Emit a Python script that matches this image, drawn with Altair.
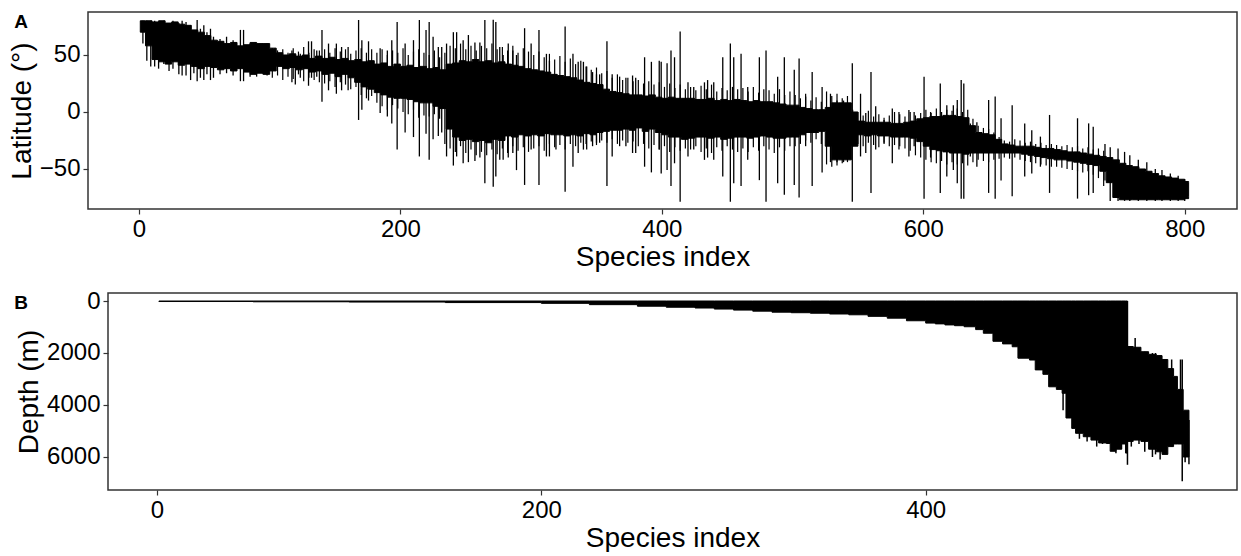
import altair as alt
import pandas as pd

FONT = "Liberation Sans"

# ---------------- Panel A : latitude range per species ----------------
# dense core of the band (solid black), read every 5 species
a_core_x = [1] + list(range(5, 801, 5)) + [803]
a_core_hi = [80, 80, 79, 80, 78, 79, 77, 76, 72, 70,
             67, 63, 62, 60, 61, 58, 59, 61, 60, 60,
             56, 52, 50, 51, 49, 50, 47, 49, 47, 48,
             46, 47, 45, 46, 44, 45, 42, 43, 40, 42,
             40, 41, 39, 40, 38, 39, 37, 42, 43, 45,
             44, 46, 44, 45, 43, 44, 42, 41, 40, 38,
             37, 36, 35, 33, 32, 31, 30, 28, 26, 25,
             24, 20, 18, 17, 16, 15, 15, 14, 15, 13,
             12, 13, 12, 12, 12, 11, 11, 12, 10, 11,
             10, 11, 10, 9, 10, 9, 9, 8, 7, 6,
             6, 4, 3, 2, 2, 4, 8, 8, 8, 0,
             -8, -9, -9, -9, -9, -10, -10, -9, -8, -6,
             -5, -4, -4, -3, -3, -4, -5, -12, -18, -19,
             -20, -24, -28, -29, -30, -30, -30, -31, -32, -32,
             -33, -34, -35, -35, -36, -37, -38, -39, -40, -42,
             -45, -47, -48, -50, -52, -54, -56, -57, -58, -59,
             -61, -62]
a_core_lo = [70, 58, 46, 44, 42, 44, 41, 42, 40, 38,
             40, 39, 37, 38, 36, 38, 35, 33, 34, 33,
             36, 40, 38, 39, 37, 38, 35, 36, 33, 34,
             31, 33, 30, 26, 22, 20, 17, 15, 13, 12,
             12, 11, 9, 8, 8, 5, 3, -15, -22, -25,
             -24, -26, -25, -27, -24, -25, -21, -22, -20, -21,
             -20, -21, -19, -20, -20, -21, -20, -21, -19, -20,
             -18, -17, -16, -16, -15, -16, -14, -17, -15, -18,
             -20, -22, -22, -24, -23, -22, -22, -23, -22, -24,
             -23, -22, -22, -23, -22, -21, -22, -23, -23, -22,
             -22, -20, -18, -18, -17, -30, -42, -42, -42, -30,
             -20, -21, -20, -21, -21, -22, -22, -22, -23, -26,
             -30, -33, -34, -35, -36, -36, -37, -36, -36, -36,
             -36, -36, -36, -36, -36, -37, -38, -39, -40, -41,
             -42, -42, -43, -44, -45, -46, -47, -52, -62, -75,
             -77, -77, -77, -77, -77, -77, -77, -77, -77, -77,
             -76, -74]

# species whose range sticks a little out of the core (every 4th species, 102..738)
a_fringe_x = list(range(102, 739, 4))
a_fringe_top = [56, 54, 55, 52, 56, 53, 57, 52, 55, 54,
                55, 52, 56, 53, 55, 51, 54, 56, 52, 55,
                52, 55, 50, 54, 52, 56, 50, 53, 55, 52,
                50, 54, 48, 52, 58, 56, 60, 55, 58, 54,
                58, 56, 60, 55, 57, 54, 58, 52, 56, 53,
                50, 53, 48, 51, 46, 49, 44, 47, 42, 45,
                40, 37, 39, 34, 36, 30, 33, 28, 30, 27,
                28, 25, 27, 24, 26, 22, 25, 21, 24, 20,
                22, 19, 23, 20, 24, 18, 21, 19, 22, 20,
                21, 18, 22, 17, 20, 19, 16, 20, 15, 18,
                15, 12, 16, 10, 13, 9, 18, 14, 16, 12,
                14, 2, 0, -3, 1, -4, -2, -5, -3, 0,
                -2, -4, 0, -3, -1, 2, -1, 3, 0, 2,
                1, 3, 0, 2, -6, -12, -14, -15, -18, -22,
                -25, -26, -24, -25, -27, -26, -28, -27, -29, -28,
                -29, -30, -29, -31, -30, -32, -31, -33, -32, -34]
a_fringe_bot = [30, 32, 28, 31, 29, 33, 27, 30, 28, 26,
                25, 27, 22, 26, 24, 20, 22, 15, 12, 14,
                8, 5, 2, 6, 3, 0, -2, 2, -5, -3,
                -4, -2, -6, -28, -32, -35, -30, -36, -33, -38,
                -35, -38, -33, -37, -32, -36, -30, -34, -31, -35,
                -32, -30, -34, -28, -31, -29, -33, -28, -30, -27,
                -28, -26, -29, -25, -27, -24, -28, -25, -27, -26,
                -30, -28, -32, -29, -33, -30, -35, -31, -34, -32,
                -33, -30, -35, -32, -36, -31, -34, -30, -33, -35,
                -32, -35, -31, -34, -30, -33, -36, -31, -34, -30,
                -30, -28, -25, -27, -24, -28, -46, -48, -47, -45,
                -44, -30, -28, -30, -27, -29, -31, -28, -30, -29,
                -30, -32, -34, -38, -40, -42, -44, -45, -43, -46,
                -44, -46, -45, -47, -44, -42, -43, -44, -42, -41,
                -40, -41, -40, -42, -43, -44, -45, -46, -47, -48,
                -48, -49, -50, -51, -52, -53, -52, -55, -58, -65]

# individual species reaching far outside the core (vertical strokes)
a_spike_x = [3, 6, 9, 12, 15, 19, 23, 26, 30.5, 33, 36, 39.5, 42, 44.5, 47, 49.6, 52, 54.7, 57, 62,
             67, 72, 77.6, 80, 85, 90, 95, 98, 104, 117, 119.6, 123.4, 129.7, 132, 136, 140, 145, 151, 155, 160,
             168, 170.5, 175.6, 184.5, 190, 193.4, 197.5, 203.6, 210, 214.5, 219.6, 222, 225, 229, 231.6, 235.3, 240.5, 243, 248, 252,
             257, 260.8, 264.6, 271, 273, 276, 278.6, 282.5, 286, 288.8, 295, 300, 306, 311.7, 314, 319, 326, 332, 336, 340,
             342.5, 347, 350, 352.4, 358, 362, 367.7, 372.5, 377.6, 380, 386.8, 392, 398, 399.5, 404, 407, 409.7, 414, 420, 424.4,
             432.6, 435, 439.7, 446.6, 452.4, 455, 460.6, 465.7, 474.6, 479.7, 488.6, 493.7, 501.3, 505, 510, 515, 522.6, 529, 534, 539,
             545.7, 552, 556, 560, 563.6, 570, 576.3, 581.4, 589, 593, 600.6, 605.6, 613, 618, 623, 626, 629, 631, 636, 641,
             650, 655, 659.5, 668, 677.6, 683, 689.6, 696.6, 718, 726.5, 730, 739, 743, 749, 754, 758, 764.5, 771, 777.5, 782.6,
             789, 795, 800]
a_spike_top = [80, 80, 80, 80, 79, 80, 78, 80, 78, 80, 79, 76, 72, 80.7, 73, 76, 70, 73, 66, 64,
               66, 63, 72, 72, 60, 60, 60, 60, 56, 54, 50, 51, 62, 62, 54, 72, 60, 60, 57, 57,
               80.7, 63, 62, 56, 54, 63, 79, 60, 63, 80.7, 72, 79, 66, 57, 57, 60, 70, 70, 63, 67.5,
               61, 61, 80.7, 81, 79, 57, 50, 60, 54, 50, 73.5, 60, 72, 51, 45, 31, 75, 51, 44, 44,
               40, 35, 33, 33, 62, 33, 31, 30, 32, 30, 48, 44, 45, 44, 42.7, 54, 48, 70.5, 26, 22,
               26, 28, 26, 48, 60, 48, 51, 22, 48, 54, 31, 48, 37, 47, 13.5, 35, 22, 16, 10, 10,
               42.7, 16, -1, 35, 5, -7, 3, 0, 1.8, 0, 31, 0, 25, 6, 6, 10.5, 28, 25, -10, -9,
               10.5, 13.5, -5.5, 6, -10, -16, -21.6, -2.6, -5.5, -10, -13, -28, -31, -32, -35, -38, -42, -44, -50, -51,
               -54, -56, -59]
a_spike_bot = [60, 45, 40, 40, 38, 42, 36, 38, 33, 32, 32, 28, 34, 27, 30, 28, 33, 28, 30, 33,
               34, 32, 27, 27, 31, 31, 33, 32, 36, 26, 24, 30, 23, 30, 31, 9, 19, 16, 19, 19,
               -7, 2, 10, -1, -4, -10, -33, -18, -22, -39, -19, -42, -24, -21, -18, -39, -47, -39, -45, -44,
               -43, -40, -62.6, -65.5, -56.7, -42, -42, -40, -36, -51, -64, -33, -64, -39, -39, -33, -70, -48, -36, -33,
               -33, -30, -27, -27, -65, -39, -30, -30, -36, -36, -48, -53, -33, -54, -51, -65, -45, -78.7, -39, -33,
               -42, -40, -42, -56.7, -78.7, -62.6, -65, -42, -59.8, -78.7, -62.6, -72.5, -64, -75, -30, -65, -53, -44, -44, -44,
               -78.7, -39, -36, -71, -33, -27, -45, -33, -39, -30, -76, -40, -71, -56.7, -51, -62.6, -76, -76, -39, -48,
               -71, -76, -60, -74, -56.7, -54, -48, -71, -76, -73, -71, -60, -78, -78, -78, -78, -78, -78, -78, -78,
               -78, -78, -78]

a_xticks = [0, 200, 400, 600, 800]
a_yticks = [-50, 0, 50]

# ---------------- Panel B : depth range per species ----------------
b_x = [1, 50, 100, 150, 200, 225, 250, 265, 280, 290,
       300, 310, 320, 330, 340, 350, 360, 370, 380, 390,
       400, 405, 410, 415, 420, 426, 430, 435, 440, 445,
       448, 454, 457, 461, 464, 468, 471, 473, 476, 478,
       482, 486, 490, 494, 496, 499, 502, 504,
       505, 508, 512, 516, 520, 523, 526, 529, 531, 534, 537]
b_min = [0, 0, 0, 0, 0, 0, 0, 0, 0, 0,
         0, 0, 0, 0, 0, 0, 0, 0, 0, 0,
         0, 0, 0, 0, 0, 0, 0, 0, 0, 0,
         0, 0, 0, 0, 0, 0, 0, 0, 0, 0,
         0, 0, 0, 0, 0, 0, 0, 0,
         1750, 1780, 1950, 2050, 2100, 2250, 2600, 2900, 3400, 4200, 4500]
b_max = [20, 30, 40, 60, 90, 140, 200, 240, 270, 310,
         350, 390, 430, 450, 470, 500, 530, 590, 660, 760,
         850, 880, 920, 950, 990, 1100, 1240, 1550, 1650, 1760,
         2200, 2270, 2650, 2820, 3300, 3400, 3550, 4500, 4900, 5090,
         5220, 5350, 5460, 5480, 5780, 5700, 5500, 5850,
         5400, 5350, 5400, 5700, 5800, 5900, 5600, 5500, 5500, 6000, 6000]

b_spike_x = [471.5, 480, 484, 489, 492, 499, 501.8, 505, 507, 509, 511, 514, 518, 519.6, 522, 525, 528, 532.6, 533.5, 535, 537]
b_spike_top = [0, 0, 0, 0, 0, 0, 0, 0, 1780, 1420, 1900, 1950, 2000, 2000, 2100, 2300, 2250, 2250, 2250, 4300, 4580]
b_spike_bot = [4200, 5300, 5400, 5600, 5500, 5860, 5700, 6300, 5600, 5270, 5500, 5800, 6000, 5900, 6100, 5800, 5600, 5500, 6936, 6200, 6280]

b_xticks = [0, 200, 400]
b_yticks = [0, 2000, 4000, 6000]

panel_labels = ["A", "B"]

AX = dict(grid=False, domain=False, ticks=True, tickSize=5, tickWidth=1.2, tickColor="#333333",
          labelFont=FONT, labelFontSize=24, labelColor="#000000", labelPadding=3,
          titleFont=FONT, titleFontSize=28, titleFontWeight="normal", titleColor="#000000")

BORDER = "#333333"


def panel(core, fringe, spikes, label, xdom, ydom, xticks, yticks, ytitle, width, reverse, sw,
          inset=0, ylabel_fmt=None):
    xs = alt.Scale(domain=xdom, nice=False, zero=False)
    ys = alt.Scale(domain=ydom, nice=False, zero=False, reverse=reverse)
    xax = alt.Axis(values=xticks, title="Species index", titlePadding=2,
                   titleX=inset + (width - inset) / 2, titleAlign="center", **AX)
    yax_kw = dict(values=yticks, title=ytitle, titlePadding=3, offset=-inset, **AX)
    if ylabel_fmt:
        yax_kw["format"] = ylabel_fmt
    area = alt.Chart(core).mark_area(color="black", stroke="black", strokeWidth=1,
                                     interpolate="step-after").encode(
        x=alt.X("species:Q", scale=xs, axis=xax),
        y=alt.Y("hi:Q", scale=ys, axis=alt.Axis(**yax_kw)),
        y2="lo:Q",
    )
    layers = [area]
    if fringe is not None:
        layers.append(alt.Chart(fringe).mark_rule(color="black", strokeWidth=1.2).encode(
            x=alt.X("species:Q"), y=alt.Y("top:Q"), y2="bot:Q"))
    layers.append(alt.Chart(spikes).mark_rule(color="black", strokeWidth=sw).encode(
        x=alt.X("species:Q"), y=alt.Y("top:Q"), y2="bot:Q"))
    frame = alt.Chart(pd.DataFrame({"f": [0]})).mark_rect(
        fill="transparent", stroke=BORDER, strokeWidth=1.5
    ).encode(x=alt.value(inset), x2=alt.value(width), y=alt.value(0), y2=alt.value(197))
    txt = alt.Chart(pd.DataFrame({"t": [label]})).mark_text(
        font=FONT, fontSize=19, fontWeight="bold", align="center", baseline="alphabetic", color="black"
    ).encode(text="t:N", x=alt.value(-67), y=alt.value(16))
    layers += [frame, txt]
    return alt.layer(*layers).properties(
        width=width, height=197, view=alt.ViewBackground(stroke="transparent", strokeWidth=0)
    )


core_a = pd.DataFrame({"species": a_core_x, "hi": a_core_hi, "lo": a_core_lo})
fr_a = pd.DataFrame({"species": a_fringe_x, "top": a_fringe_top, "bot": a_fringe_bot})
spk_a = pd.DataFrame({"species": a_spike_x, "top": a_spike_top, "bot": a_spike_bot})
core_b = pd.DataFrame({"species": b_x, "hi": b_min, "lo": b_max})
spk_b = pd.DataFrame({"species": b_spike_x, "top": b_spike_top, "bot": b_spike_bot})

pa = panel(core_a, fr_a, spk_a, panel_labels[0], [-39, 840], [-85.1, 87.7], a_xticks, a_yticks,
           "Latitude (°)", 1149, False, 1.3)
pb = panel(core_b, None, spk_b, panel_labels[1], [-35.9, 562], [-308, 7270], b_xticks, b_yticks,
           "Depth (m)", 1149, True, 1.5, inset=20, ylabel_fmt="d")

chart = alt.vconcat(pa, pb, spacing=18).properties(
    padding={"left": 8, "top": 11, "right": 1, "bottom": 0},
    background="white",
).configure_view(stroke="transparent", strokeWidth=0)

chart.save("out.html", embed_options={"renderer": "svg", "actions": False})
